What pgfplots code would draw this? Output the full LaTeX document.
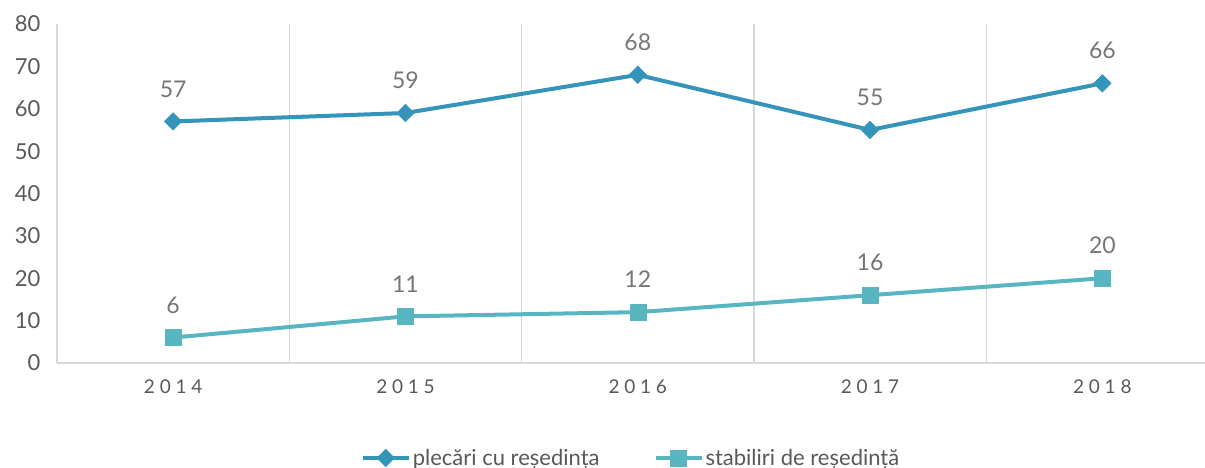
\documentclass[border=0pt]{standalone}
\usepackage{pgfplots}
\pgfplotsset{compat=1.18}
\usepackage{fontspec}
\setmainfont{Lato}
\definecolor{cA}{HTML}{3494BA}
\definecolor{cB}{HTML}{58B6C0}
\definecolor{gridc}{HTML}{D9D9D9}
\definecolor{txt}{HTML}{595959}
\definecolor{lbl}{HTML}{767676}
\begin{document}
\begin{tikzpicture}
\path[use as bounding box] (0,0) rectangle (1205pt,468pt);
\begin{axis}[
  at={(57pt,105pt)}, anchor=south west,
  scale only axis, width=1148pt, height=339pt,
  xmin=-0.5, xmax=4.442, ymin=0, ymax=80,
  axis line style={gridc, line width=1.2pt},
  axis x line=bottom, axis y line=left,
  axis line style={-},
  xtick={0,1,2,3,4},
  xticklabels={2014,2015,2016,2017,2018},
  extra x ticks={0.5,1.5,2.5,3.5},
  extra x tick labels={},
  extra x tick style={grid=major, major grid style={gridc, line width=1.2pt}},
  ytick={0,10,...,80},
  major tick length=0pt,
  /pgf/number format/assume math mode=true,
  yticklabel style={font=\fontsize{22}{26}\selectfont, text=txt, anchor=east, xshift=-13pt},
  xticklabel style={font=\fontsize{19}{22}\selectfont\addfontfeatures{LetterSpace=25}, text=txt, anchor=north, yshift=-13pt},
  nodes near coords,
  every node near coord/.append style={font=\fontsize{23}{26}\selectfont, text=lbl, anchor=south, inner sep=0pt, yshift=24pt},
  legend style={at={(0.5,-0.28)}, anchor=center, draw=none, legend columns=2,
    font=\fontsize{22}{25}\selectfont, text=txt,
    /tikz/every even column/.append style={column sep=52pt}},
  legend image code/.code={\draw[mark repeat=2,mark phase=2] plot coordinates {(0pt,0pt)(23pt,0pt)(46pt,0pt)};},
]
\addplot[cA, line width=4pt, mark=square*, mark size=6.2pt, mark options={solid, fill=cA, draw=cA, line width=0.5pt, rotate=45}]
  coordinates {(0,57)(1,59)(2,68)(3,55)(4,66)};
\addlegendentry{plecări cu reședința}
\addplot[cB, line width=4pt, mark=square*, mark size=8pt, mark options={solid, fill=cB, draw=cB, line width=0.5pt}]
  coordinates {(0,6)(1,11)(2,12)(3,16)(4,20)};
\addlegendentry{stabiliri de reședință}
\end{axis}
\end{tikzpicture}
\end{document}
